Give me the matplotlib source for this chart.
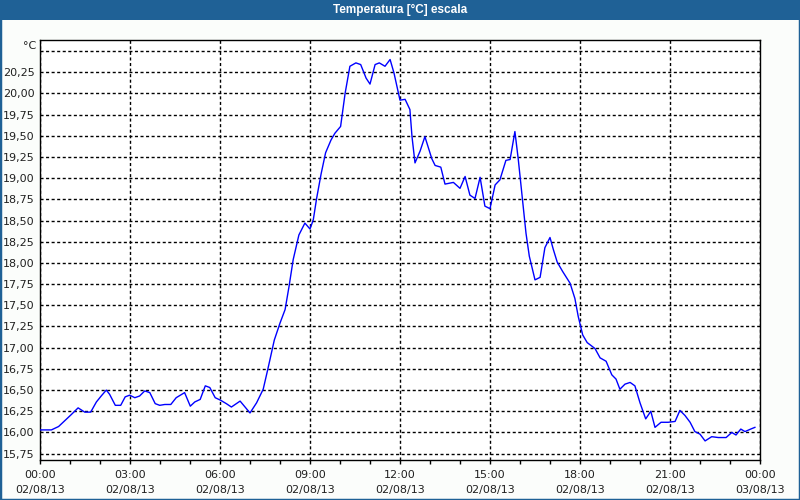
import numpy as np
import matplotlib
matplotlib.use('Agg')
import matplotlib.pyplot as plt
from matplotlib.patches import Rectangle
from matplotlib.ticker import FixedLocator, FuncFormatter

# datos (hora del dia, temperatura)
horas = [0.00, 0.38, 0.62, 1.04, 1.27, 1.49, 1.69, 1.88, 2.04, 2.21, 2.32, 2.51, 2.69, 2.84, 2.99,
         3.16, 3.32, 3.49, 3.66, 3.84, 3.99, 4.16, 4.36, 4.54, 4.82, 5.01, 5.16, 5.34, 5.51, 5.66,
         5.84, 6.02, 6.21, 6.38, 6.67, 7.00, 7.22, 7.44, 7.59, 7.81, 8.00, 8.17, 8.30, 8.44, 8.63,
         8.83, 9.00, 9.11, 9.22, 9.37, 9.52, 9.70, 9.83, 10.02, 10.17, 10.33, 10.53, 10.69, 10.87,
         11.00, 11.17, 11.31, 11.50, 11.67, 11.80, 12.00, 12.17, 12.33, 12.40, 12.50, 12.67, 12.83,
         13.06, 13.17, 13.36, 13.50, 13.78, 14.00, 14.17, 14.33, 14.50, 14.67, 14.83, 15.00, 15.17,
         15.33, 15.53, 15.67, 15.83, 15.94, 16.06, 16.20, 16.31, 16.50, 16.67, 16.83, 17.00, 17.11,
         17.24, 17.42, 17.67, 17.83, 17.94, 18.09, 18.24, 18.50, 18.67, 18.87, 19.06, 19.20, 19.33,
         19.50, 19.67, 19.83, 20.00, 20.19, 20.36, 20.50, 20.70, 20.94, 21.17, 21.33, 21.50, 21.67,
         21.83, 22.00, 22.17, 22.39, 22.61, 22.87, 23.06, 23.20, 23.36, 23.50, 23.69, 23.83]
temperatura = [16.03, 16.03, 16.07, 16.21, 16.29, 16.24, 16.24, 16.36, 16.43, 16.50, 16.45, 16.32, 16.32, 16.42, 16.44,
               16.41, 16.43, 16.49, 16.47, 16.34, 16.32, 16.33, 16.33, 16.41, 16.47, 16.31, 16.36, 16.39, 16.55, 16.53,
               16.41, 16.38, 16.34, 16.30, 16.37, 16.23, 16.35, 16.51, 16.74, 17.09, 17.29, 17.45, 17.72, 18.04, 18.33,
               18.47, 18.40, 18.51, 18.76, 19.05, 19.30, 19.45, 19.53, 19.61, 20.00, 20.32, 20.36, 20.34, 20.18,
               20.11, 20.34, 20.36, 20.32, 20.40, 20.24, 19.92, 19.93, 19.81, 19.49, 19.18, 19.32, 19.49,
               19.23, 19.15, 19.13, 18.93, 18.95, 18.88, 19.02, 18.80, 18.76, 19.01, 18.67, 18.64, 18.92,
               18.98, 19.21, 19.22, 19.55, 19.23, 18.82, 18.35, 18.08, 17.80, 17.83, 18.18, 18.30, 18.16,
               18.01, 17.90, 17.76, 17.58, 17.37, 17.15, 17.06, 16.99, 16.88, 16.84, 16.68, 16.63, 16.51,
               16.57, 16.59, 16.55, 16.35, 16.16, 16.25, 16.06, 16.12, 16.12, 16.13, 16.26, 16.20, 16.12,
               16.01, 15.98, 15.90, 15.95, 15.94, 15.94, 16.00, 15.97, 16.04, 16.01, 16.04, 16.06]

x_ticks = [0, 3, 6, 9, 12, 15, 18, 21, 24]
x_labels = ['00:00\n02/08/13', '03:00\n02/08/13', '06:00\n02/08/13', '09:00\n02/08/13',
            '12:00\n02/08/13', '15:00\n02/08/13', '18:00\n02/08/13', '21:00\n02/08/13',
            '00:00\n03/08/13']
y_ticks = [15.75, 16.00, 16.25, 16.50, 16.75, 17.00, 17.25, 17.50, 17.75, 18.00, 18.25,
           18.50, 18.75, 19.00, 19.25, 19.50, 19.75, 20.00, 20.25, 20.50]

azul = '#1f6196'

fig = plt.figure(figsize=(8, 5), dpi=100, facecolor='#fbfdfb')

# barra de titulo
fig.patches.append(Rectangle((0, 1 - 20 / 500), 1, 20 / 500, transform=fig.transFigure,
                             facecolor=azul, edgecolor='none', zorder=0))
fig.text(0.5, 1 - 10 / 500, 'Temperatura [°C] escala', color='white', fontsize=8.5,
         fontweight='bold', family='Liberation Sans', ha='center', va='center')
fig.patches.append(Rectangle((0, 0), 1, 1, transform=fig.transFigure, fill=False,
                             edgecolor=azul, linewidth=2.5, zorder=0))

ax = fig.add_axes([40 / 800, 40 / 500, 720 / 800, 420 / 500])
ax.set_facecolor('white')
ax.plot(horas, temperatura, color='#0000ff', linewidth=1, zorder=3)

ax.set_xlim(0, 24)
ax.set_ylim(15.675, 20.63)

ax.set_xticks(x_ticks)
ax.set_xticklabels(x_labels, fontsize=8, color='#202020', linespacing=1.6)
ax.xaxis.set_minor_locator(FixedLocator(np.arange(0, 25, 1)))
ax.tick_params(axis='x', which='both', direction='out', length=3, width=1, color='black', pad=4)

ax.set_yticks(y_ticks)
ax.yaxis.set_major_formatter(FuncFormatter(
    lambda v, p: '' if v > 20.4 else ('%.2f' % v).replace('.', ',')))
ax.tick_params(axis='y', length=0, pad=4, labelsize=8, labelcolor='#202020')
fig.text(36 / 800, 1 - 46 / 500, '°C', fontsize=8, color='#202020', ha='right', va='center')

ax.grid(True, which='major', color='black', linestyle=(0, (2.2, 1.8)), linewidth=1)
for s in ax.spines.values():
    s.set_color('black')
    s.set_linewidth(1)

fig.savefig('out.png', dpi=100, facecolor=fig.get_facecolor())
